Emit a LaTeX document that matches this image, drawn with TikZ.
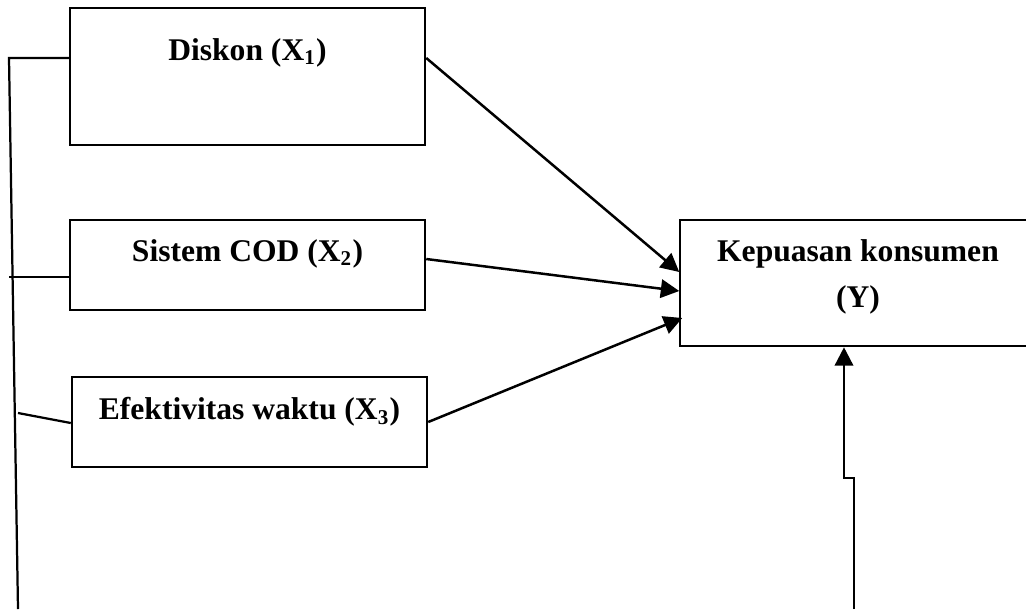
\documentclass[tikz,border=0pt]{standalone}
\usepackage{fontspec}
\setmainfont{Liberation Serif}
\usepackage{tikz}
\usetikzlibrary{arrows.meta,calc}
\tikzset{box/.style={draw=black,line width=0.85pt,fill=white,align=center,
 inner sep=0pt,minimum width=135pt,font=\fontsize{12}{17.5}\selectfont\bfseries},
 arr/.style={-{Triangle[length=7pt,width=7pt]},line width=0.95pt},
 ln/.style={line width=0.85pt}}
\begin{document}
\begin{tikzpicture}[x=0.38pt,y=-0.38pt]
\useasboundingbox (0,0) rectangle (1026,609);
\node[box,text height=19.8pt,text depth=32.3pt] (dis) at (247.5,76.5) {Diskon (X\textsubscript{1})};
\node[box,text height=15.6pt,text depth=18.6pt] (cod) at (247.5,265) {Sistem COD (X\textsubscript{2})};
\node[box,text height=16.3pt,text depth=17.9pt] (efk) at (249.5,422) {Efektivitas waktu (X\textsubscript{3})};
\node[box,minimum height=48pt,text depth=7.2pt] (kep) at (858,283) {Kepuasan konsumen\\(Y)};
\draw[arr] ($(dis.east)+(0,-18.5)$)--($(kep.west)+(0,-11)$);
\draw[arr] ($(cod.east)+(0,-6)$)--($(kep.west)+(0,8)$);
\draw[arr] (efk.east)--($(kep.west)+(3,35)$);
\coordinate (lt) at (9,58);
\coordinate (lb) at (18,609);
\coordinate (lc) at (9,277);
\coordinate (le) at (18,413);
\draw[ln] ($(dis.west)+(0,-18.5)$)--(lt)--(lb);
\draw[ln] ($(cod.west)+(0,12)$)--(lc);
\draw[ln] ($(efk.west)+(0,1)$)--(le);
\coordinate (rb) at (854,609);
\draw[arr] (rb)--++(0,-131)-|($(kep.south)+(-14,0)$);
\end{tikzpicture}
\end{document}
